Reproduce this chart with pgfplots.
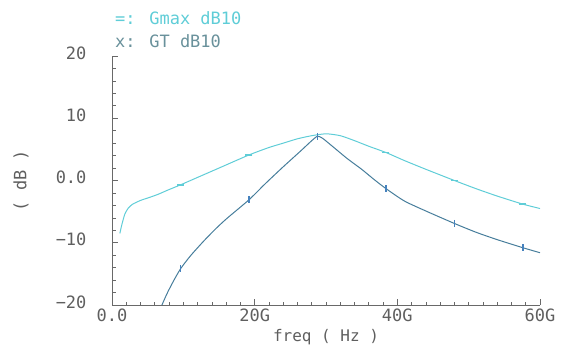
\documentclass[border=0pt]{standalone}
\usepackage{pgfplots}
\pgfplotsset{compat=1.18}
\usepackage{fontspec}
\setmainfont{DejaVu Sans Mono}
\definecolor{gmaxc}{RGB}{95,205,215}
\definecolor{gtc}{RGB}{70,125,155}
\definecolor{gtm}{RGB}{70,130,190}
\definecolor{gtlab}{RGB}{105,145,155}
\definecolor{axc}{RGB}{105,105,105}
\definecolor{labc}{RGB}{95,95,95}
\begin{document}
\begin{tikzpicture}
\useasboundingbox (0,0) rectangle (562pt,360pt);
\begin{axis}[
  at={(112pt,55pt)}, anchor=south west,
  scale only axis, width=428pt, height=249pt,
  xmin=0, xmax=60, ymin=-20, ymax=20,
  axis x line=bottom, axis y line=left,
  axis line style={-, draw=axc, line width=0.8pt},
  tick align=inside,
  major tick length=6pt, minor tick length=3.5pt,
  every major tick/.style={draw=axc, line width=0.8pt},
  every minor tick/.style={draw=axc, line width=0.7pt},
  xtick={0,20,40,60}, xticklabels={{0.0},{20G},{40G},{60G}},
  ytick={-20,-10,0,10,20}, yticklabels={{−20},{−10},{0.0},{10},{20}},
  minor x tick num=9, minor y tick num=4,
  /pgf/number format/assume math mode=true,
  tick label style={font=\fontsize{17}{19}\selectfont, text=labc},
  yticklabel style={xshift=-22pt, yshift=3pt},
  xlabel={freq ( Hz )}, ylabel={( dB )},
  xlabel style={font=\fontsize{16}{18}\selectfont, text=labc, at={(axis description cs:0.5,-0.128)}, anchor=center},
  ylabel style={font=\fontsize{17}{19}\selectfont, text=labc, at={(axis description cs:-0.2126,0.5)}, anchor=center},
  clip=false,
]
% Gmax line
\addplot[gmaxc, line width=1pt, smooth, tension=0.4] coordinates {
(1.1,-8.5) (1.4,-7.0) (1.8,-5.4) (2.3,-4.4) (2.9,-3.8) (4,-3.2) (5.3,-2.7)
(6.5,-2.2) (7.7,-1.6) (9.6,-0.7) (12,0.5) (15,2.0) (19.2,4.1) (22,5.3)
(24,6.0) (26,6.7) (28,7.2) (30,7.5) (32,7.2) (34,6.4) (36,5.5) (38.4,4.5)
(41,3.2) (44,1.8) (48,0.0) (51,-1.3) (54,-2.5) (57.6,-3.8) (60,-4.5)
};
\addplot[gmaxc, only marks, mark=-, mark size=3.5pt, mark options={line width=1.8pt}] coordinates {
(9.6,-0.7) (19.2,4.1) (38.4,4.5) (48,0.0) (57.6,-3.8)
};
% GT line
\addplot[gtc, line width=1pt, smooth, tension=0.4] coordinates {
(7,-20) (7.7,-18.2) (8.5,-16.4) (9.6,-14.2) (11,-12.1) (12.8,-9.8) (14.5,-7.8) (16.1,-6.1)
(19.2,-3.1) (21.5,-0.5) (24,2.2) (26.5,4.8) (28,6.4) (28.8,7.1) (29.5,6.8)
(31,5.4) (33,3.5) (35,1.8) (36.7,0.2) (38.4,-1.3) (41,-3.3) (44,-4.9)
(48,-6.9) (51,-8.3) (54,-9.5) (57.6,-10.8) (60,-11.6)
};
\addplot[gtm, only marks, mark=|, mark size=3.5pt, mark options={line width=1.6pt}] coordinates {
(9.6,-14.2) (19.2,-3.1) (28.8,7.1) (38.4,-1.3) (48,-6.9) (57.6,-10.8)
};
\node[anchor=west, inner sep=0pt, text=gmaxc, font=\fontsize{17}{19}\selectfont] at (rel axis cs:0.007,1.153) {=: Gmax dB10};
\node[anchor=west, inner sep=0pt, text=gtlab, font=\fontsize{17}{19}\selectfont] at (rel axis cs:0.007,1.060) {x: GT dB10};
\end{axis}
\end{tikzpicture}
\end{document}
